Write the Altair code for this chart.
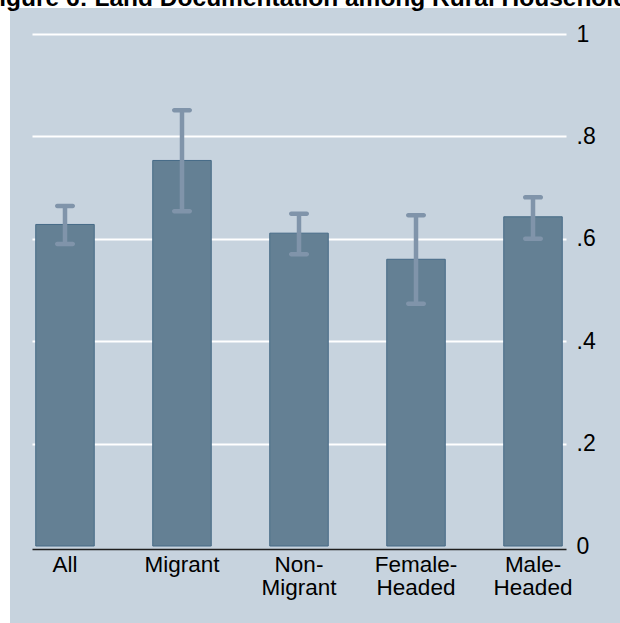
import altair as alt
import pandas as pd

# Share of rural households with land documentation, by group, with 95% CIs
groups = ["All", "Migrant", "Non-Migrant", "Female-Headed", "Male-Headed"]
share = [0.628, 0.753, 0.611, 0.560, 0.643]
ci_low = [0.590, 0.654, 0.570, 0.473, 0.600]
ci_high = [0.664, 0.851, 0.649, 0.646, 0.681]

df = pd.DataFrame({"group": groups, "share": share, "lo": ci_low, "hi": ci_high})

FONT = "Liberation Sans"
BAR = "#648094"
BAR_EDGE = "#466a86"
WHISKER = "#8094aa"
PANEL = "#c7d3de"

x_enc = alt.X(
    "group:N",
    sort=groups,
    scale=alt.Scale(paddingInner=0.5, paddingOuter=0.032),
    axis=alt.Axis(
        orient="bottom",
        title=None,
        labelAngle=0,
        labelExpr="split(replace(datum.label, '-', '-|'), '|')",
        labelFont=FONT,
        labelFontSize=22.5,
        labelLineHeight=23,
        labelColor="black",
        labelPadding=4,
        ticks=False,
        domainColor="#1f1f1f",
        domainWidth=1.5,
        offset=3,
        grid=False,
    ),
)

y_scale = alt.Scale(domain=[0, 1], nice=False, zero=True)

y_enc = alt.Y(
    "share:Q",
    scale=y_scale,
    axis=alt.Axis(
        orient="right",
        title=None,
        values=[0, 0.2, 0.4, 0.6, 0.8, 1],
        labelExpr="datum.value == 0 ? '0' : datum.value == 1 ? '1' : replace(format(datum.value, '.1f'), '0.', '.')",
        labelFont=FONT,
        labelFontSize=23,
        labelColor="black",
        labelPadding=10,
        ticks=False,
        tickSize=0,
        domain=False,
        grid=True,
        gridColor="white",
        gridWidth=1.8,
        gridOpacity={"condition": {"test": "datum.value === 0", "value": 0}, "value": 1},
    ),
)

bars = alt.Chart(df).mark_bar(color=BAR, stroke=BAR_EDGE, strokeWidth=1).encode(
    x=x_enc, y=y_enc
)

whisker = alt.Chart(df).mark_rule(color=WHISKER, strokeWidth=4.5).encode(
    x=alt.X("group:N", sort=groups),
    y=alt.Y("lo:Q", scale=y_scale),
    y2="hi:Q",
)

cap_hi = alt.Chart(df).mark_tick(
    color=WHISKER, size=20, thickness=4.5, cornerRadius=2.2, opacity=1
).encode(x=alt.X("group:N", sort=groups), y=alt.Y("hi:Q", scale=y_scale))

cap_lo = alt.Chart(df).mark_tick(
    color=WHISKER, size=20, thickness=4.5, cornerRadius=2.2, opacity=1
).encode(x=alt.X("group:N", sort=groups), y=alt.Y("lo:Q", scale=y_scale))

# white page margin on the left and top edges
edge = pd.DataFrame({"k": [0]})
left_margin = alt.Chart(edge).mark_rect(color="white").encode(
    x=alt.value(-32), x2=alt.value(-22), y=alt.value(-34), y2=alt.value(600)
)
top_margin = alt.Chart(edge).mark_rect(color="white").encode(
    x=alt.value(-32), x2=alt.value(600), y=alt.value(-34), y2=alt.value(-26)
)

chart = (
    alt.layer(bars, whisker, cap_hi, cap_lo, left_margin, top_margin)
    .properties(
        width=534,
        height=512,
        padding={"left": 32, "top": 34, "right": 54, "bottom": 77},
        autosize=alt.AutoSizeParams(type="none"),
        title=alt.TitleParams(
            "Figure 6: Land Documentation among Rural Households",
            font=FONT,
            fontSize=24.5,
            fontWeight="bold",
            color="black",
            anchor="middle",
            frame="group",
            baseline="alphabetic",
            offset=0,
            dx=14,
            dy=30,
            zindex=1,
        ),
    )
    .configure(background=PANEL)
    .configure_view(strokeWidth=0)
)

chart.save("out.html", embed_options={"renderer": "svg", "actions": False})
